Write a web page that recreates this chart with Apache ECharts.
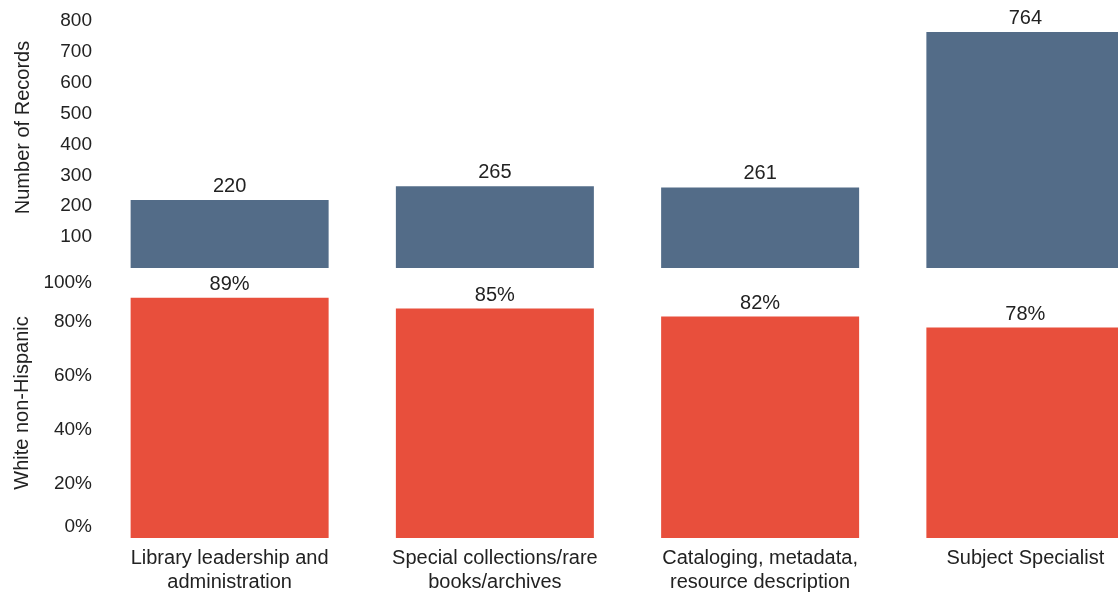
<!DOCTYPE html>
<html>
<head>
<meta charset="utf-8">
<script src="https://cdn.jsdelivr.net/npm/echarts@6/dist/echarts.min.js"></script>
<style>
  html, body { margin: 0; padding: 0; background: #fff; overflow: hidden; }
  /* wider than the window: the last bar runs off the right edge like the original */
  #chart { width: 1160px; height: 597px; }
</style>
</head>
<body>
<div id="chart"></div>
<script>
const categories = [
  'Library leadership and\nadministration',
  'Special collections/rare\nbooks/archives',
  'Cataloging, metadata,\nresource description',
  'Subject Specialist'
];
const recordCounts = [220, 265, 261, 764];
const whiteShare = [89, 85, 82, 78];

const font = 'Liberation Sans, Arial, sans-serif';
const textColor = '#222';

const chart = echarts.init(document.getElementById('chart'));
const option = {
  animation: false,
  textStyle: { fontFamily: font },
  grid: [
    { left: 97, right: 2, top: 21, height: 247 },
    { left: 97, right: 2, top: 268, height: 270 }
  ],
  xAxis: [
    {
      type: 'category', gridIndex: 0, data: categories,
      axisLine: { show: false }, axisTick: { show: false }, axisLabel: { show: false }
    },
    {
      type: 'category', gridIndex: 1, data: categories,
      axisLine: { show: false }, axisTick: { show: false },
      axisLabel: { interval: 0, color: textColor, fontSize: 20, lineHeight: 24, margin: 8, fontFamily: font }
    }
  ],
  yAxis: [
    {
      type: 'value', gridIndex: 0, min: 0, max: 800, interval: 100,
      name: 'Number of Records', nameLocation: 'middle', nameGap: 64, nameRotate: 90,
      nameTextStyle: { color: textColor, fontSize: 20, fontFamily: font, padding: [0, 0, 0, 34] },
      axisLine: { show: false }, axisTick: { show: false }, splitLine: { show: false },
      axisLabel: { color: textColor, fontSize: 19, margin: 5, showMinLabel: false, fontFamily: font }
    },
    {
      type: 'value', gridIndex: 1, min: 0, max: 100, interval: 20,
      name: 'White non-Hispanic', nameLocation: 'middle', nameGap: 61, nameRotate: 90,
      nameTextStyle: { color: textColor, fontSize: 20, fontFamily: font },
      axisLine: { show: false }, axisTick: { show: false }, splitLine: { show: false },
      axisLabel: {
        color: textColor, fontSize: 19, margin: 5, fontFamily: font,
        formatter: function (v) {
          if (v === 100) return '{hi|100%}';
          if (v === 0) return '{lo|0%}';
          return v + '%';
        },
        rich: {
          hi: { fontSize: 19, fontFamily: font, color: textColor, padding: [30, 0, 0, 0] },
          lo: { fontSize: 19, fontFamily: font, color: textColor, padding: [0, 0, 22, 0] }
        }
      }
    }
  ],
  series: [
    {
      type: 'bar', xAxisIndex: 0, yAxisIndex: 0, data: recordCounts,
      barWidth: 198, itemStyle: { color: '#536c88' },
      label: { show: true, position: 'top', distance: 4, color: textColor, fontSize: 20, fontFamily: font }
    },
    {
      type: 'bar', xAxisIndex: 1, yAxisIndex: 1, data: whiteShare,
      barWidth: 198, itemStyle: { color: '#e84f3c' },
      label: { show: true, position: 'top', distance: 3, color: textColor, fontSize: 20, formatter: '{c}%', fontFamily: font }
    }
  ]
};
chart.setOption(option);
</script>
</body>
</html>
